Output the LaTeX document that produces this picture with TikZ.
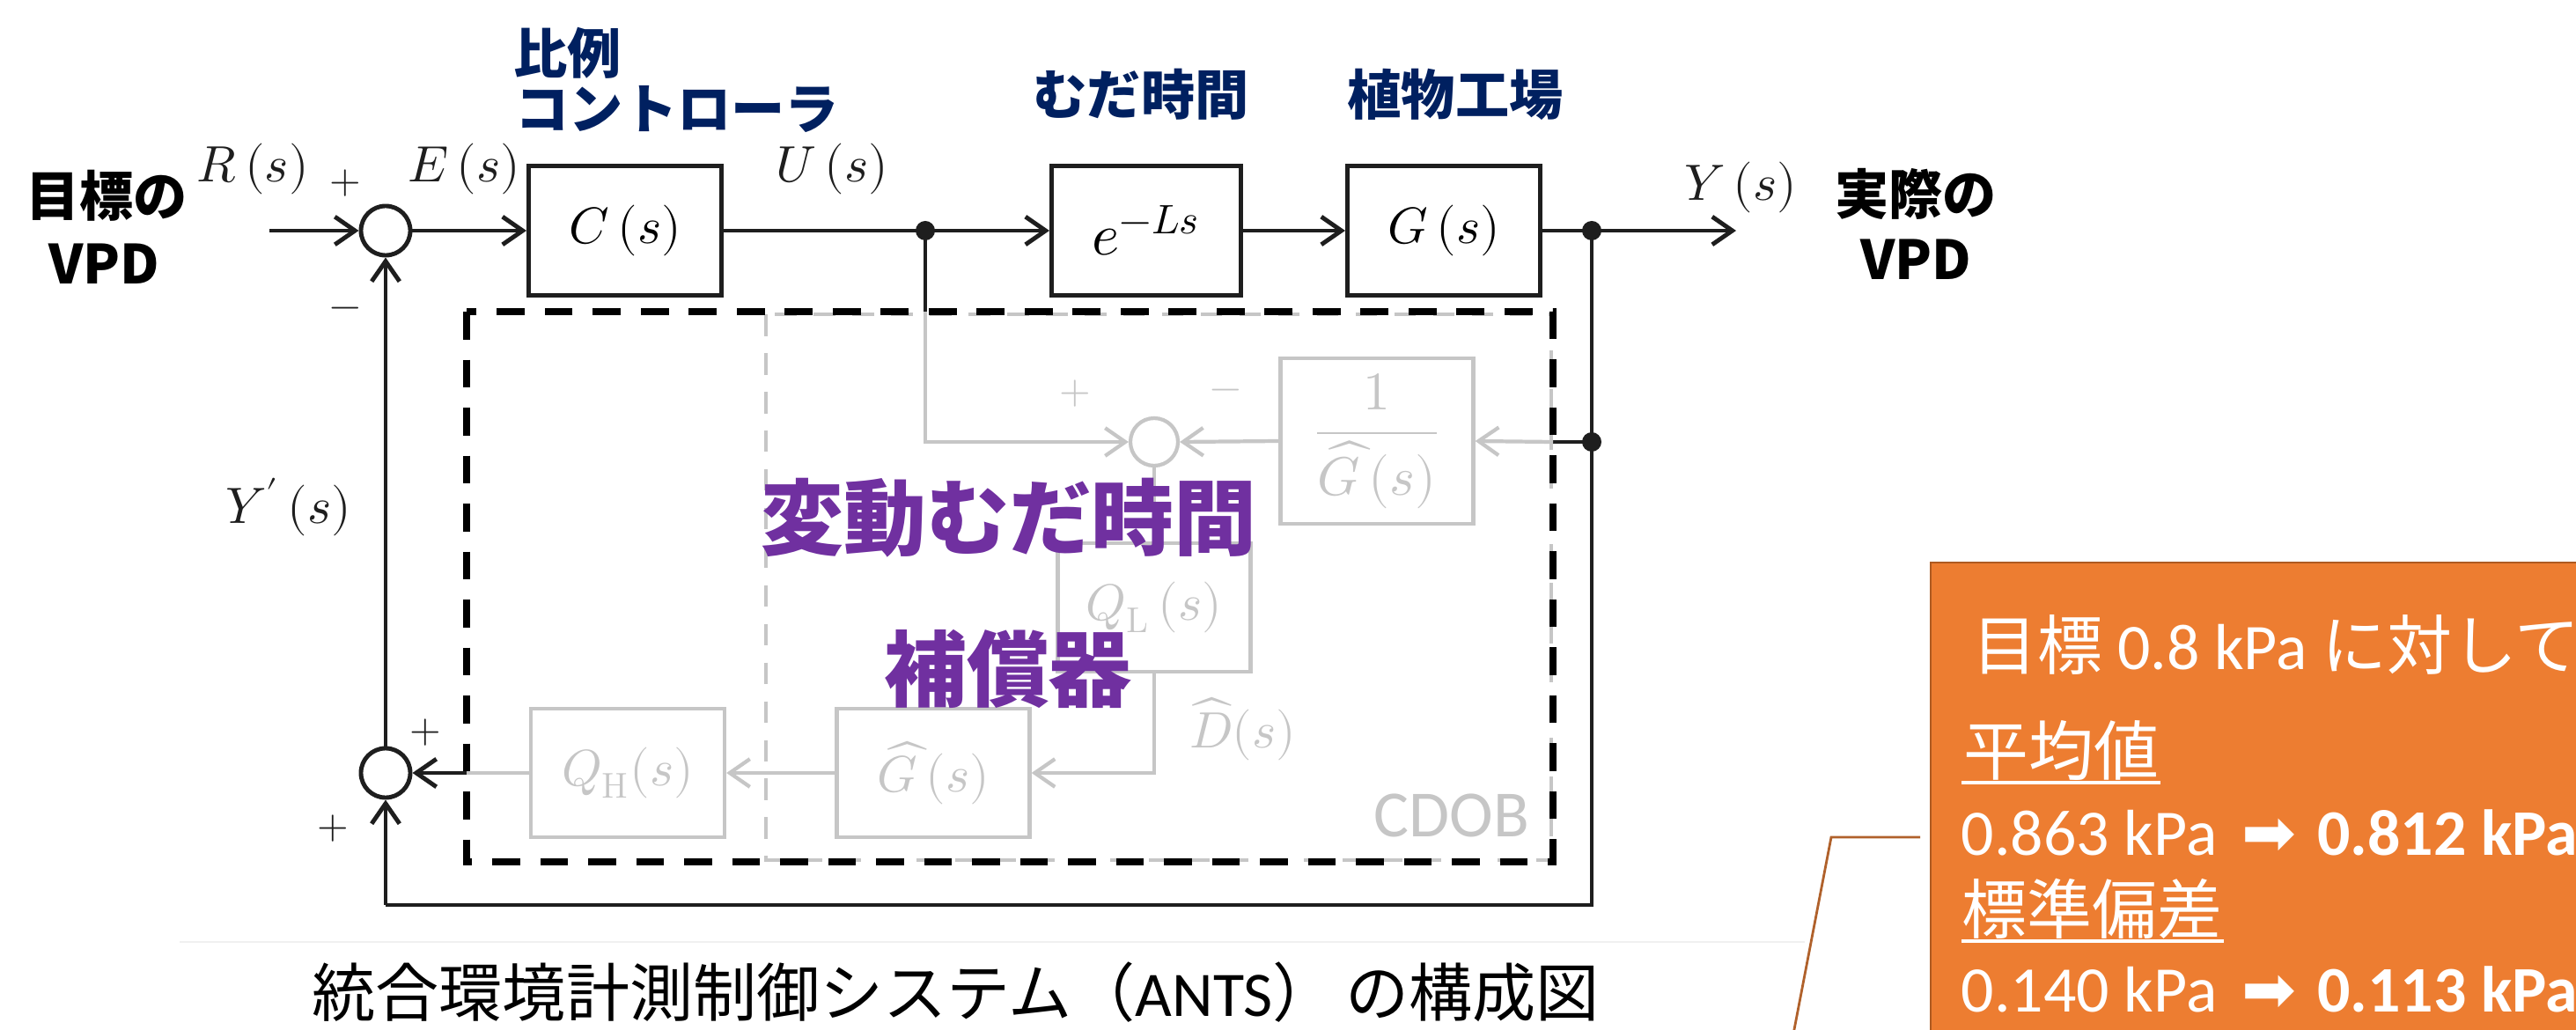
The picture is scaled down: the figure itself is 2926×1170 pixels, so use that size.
\documentclass[tikz,border=0pt]{standalone}
\usepackage{fontspec}
\usepackage{unicode-math}
\setmathfont{latinmodern-math.otf}
\usetikzlibrary{arrows.meta}
\newfontfamily\cjk{Noto Sans CJK JP}
\newfontfamily\carl{Carlito}
\newfontfamily\djv{DejaVu Sans}
\definecolor{navy}{HTML}{002060}
\definecolor{purp}{HTML}{7030A0}
\definecolor{lg}{HTML}{C6C6C6}
\definecolor{dk}{HTML}{1E1E1E}
\definecolor{org}{HTML}{ED7D31}
\definecolor{orgd}{HTML}{AE5A21}
\definecolor{callc}{HTML}{B0612B}
\newcommand{\myfs}[1]{\fontsize{#1pt}{#1pt}\selectfont}
\tikzset{
  blk/.style={draw=dk, line width=1.4pt, minimum width=2.19cm, minimum height=1.46cm, inner sep=0pt, font=\myfs{16.5}},
  gblk/.style={blk, draw=lg, line width=1.2pt, text=lg},
  sumj/.style={circle, draw=dk, line width=1.4pt, minimum size=0.56cm, inner sep=0pt},
  gsum/.style={sumj, draw=lg, line width=1.2pt, minimum size=0.54cm},
  dotn/.style={circle, fill=dk, minimum size=0.22cm, inner sep=0pt},
  wire/.style={draw=dk, line width=1.4pt},
  gwire/.style={draw=lg, line width=1.2pt},
  arr/.style={-{Straight Barb[length=6.5pt,width=9pt]}},
  mlbl/.style={inner sep=0pt, text=dk, font=\myfs{16.5}},
  sgn/.style={inner sep=0pt, text=dk, font=\myfs{13}},
  toplbl/.style={inner sep=0pt, text=navy, font=\cjk\bfseries\myfs{17.4}},
  vpd/.style={inner sep=0pt, text=black, font=\cjk\bfseries\myfs{17.4}},
  purlbl/.style={inner sep=0pt, text=purp, font=\cjk\bfseries\myfs{26.7}},
  boxtxt/.style={inner sep=0pt, text=white, font=\myfs{21}, anchor=base west},
}
\begin{document}
\begin{tikzpicture}[x=0.01cm, y=-0.01cm]
\useasboundingbox (0,0) rectangle (2926,1170);
\fill[white] (0,0) rectangle (2926,1170);

% faint separator above caption
\draw[black!6, line width=0.5pt] (204,1070) -- (2050,1070);

% ---------- CDOB frames ----------
\draw[lg, line width=1.1pt, dash pattern=on 7pt off 5.5pt] (870,357) rectangle (1762,977);
\draw[black, line width=2pt, dash pattern=on 9pt off 6.5pt] (530,354) rectangle (1764,979);

% ---------- main path ----------
\coordinate (in) at (306,262);
\node[sumj] (s1) at (438,262) {};
\node[blk] (C) at (710,262) {$C\,(s)$};
\node[dotn] (d1) at (1051,262) {};
\node[blk, minimum width=2.15cm, font=\myfs{19}] (E) at (1302,262) {$e^{-Ls}$};
\node[blk] (G) at (1640,262) {$G\,(s)$};
\node[dotn] (d2) at (1808,262) {};
\coordinate (out) at (1972,262);
\draw[wire,arr] (in) -- (s1.west);
\draw[wire,arr] (s1.east) -- (C.west);
\draw[wire] (C.east) -- (d1.center);
\draw[wire,arr] (d1.center) -- (E.west);
\draw[wire,arr] (E.east) -- (G.west);
\draw[wire] (G.east) -- (d2.center);
\draw[wire,arr] (d2.center) -- (out);

% ---------- feedback ----------
\node[sumj] (s2) at (438,878) {};
\node[dotn] (d3) at (1808,502) {};
\coordinate (br) at (1808,1028);
\coordinate (bl) at (438,1028);
\draw[wire] (d2.center) -- (br) -- (bl);
\draw[wire,arr] (bl) -- (s2.south);
\draw[wire,arr] (s2.north) -- (s1.south);

% ---------- CDOB internals ----------
\node[gblk, minimum height=1.88cm, font=\myfs{17.5}] (iG) at (1564,501) {$\dfrac{1}{\widehat{G}\,(s)}$};
\node[gsum] (s3) at (1311,502) {};
\coordinate (rb) at (1764,502);
\draw[wire] (d3.center) -- (rb);
\draw[gwire,arr] (rb) -- (iG.east);
\draw[gwire,arr] (iG.west) -- (s3.east);
\coordinate (ut) at (1051,354);
\draw[wire] (d1.center) -- (ut);
\draw[gwire,arr] (ut) |- (s3.west);
\node[gblk] (QL) at (1311,690) {$Q_{\mathrm{L}}\,(s)$};
\draw[gwire] (s3.south) -- (QL.north);
\node[gblk] (Gh) at (1060,878) {$\widehat{G}\,(s)$};
\draw[gwire,arr] (QL.south) |- (Gh.east);
\node[gblk, minimum width=2.2cm] (QH) at (713,878) {$Q_{\mathrm{H}}(s)$};
\draw[gwire,arr] (Gh.west) -- (QH.east);
\coordinate (lb) at (530,878);
\draw[gwire] (QH.west) -- (lb);
\draw[wire,arr] (lb) -- (s2.east);

% ---------- signal labels ----------
\node[mlbl] (lR) at (287,192) {$R\,(s)$};
\node[sgn] (p1) at (392,208) {$+$};
\node[mlbl] (lE) at (527,192) {$E\,(s)$};
\node[mlbl] (lU) at (945,192) {$U\,(s)$};
\node[sgn] (m1) at (392,355) {$-$};
\node[mlbl] (lYp) at (328,576) {$Y'\,(s)$};
\node[sgn] (p2) at (483,832) {$+$};
\node[sgn] (p3) at (378,941) {$+$};
\node[mlbl] (lY) at (1977,213) {$Y\,(s)$};
\node[sgn, text=lg] (p4) at (1221,447) {$+$};
\node[sgn, text=lg] (m2) at (1392,448) {$-$};
\node[mlbl, text=lg] (lD) at (1412,828) {$\widehat{D}(s)$};
\node[inner sep=0pt, text=lg, font=\carl\myfs{21.3}] (cdob) at (1649,926) {CDOB};

% ---------- Japanese labels ----------
\node[toplbl, anchor=west] (t1) at (583,60) {比例};
\node[toplbl, anchor=west] (t2) at (585,124) {コントローラ};
\node[toplbl] (t3) at (1296,107) {むだ時間};
\node[toplbl] (t4) at (1653,107) {植物工場};
\node[vpd] (v1) at (121,222) {目標の};
\node[vpd] (v2) at (118,300) {VPD};
\node[vpd] (v3) at (2176,220) {実際の};
\node[vpd] (v4) at (2176,295) {VPD};
\node[purlbl] (pu1) at (1146,588) {変動むだ時間};
\node[purlbl] (pu2) at (1145,760) {補償器};

% ---------- caption ----------
\node[inner sep=0pt, anchor=west, text=black, font=\myfs{20.5}] (cap) at (354,1127)
  {{\cjk 統合環境計測制御システム（}{\carl ANTS}{\cjk ）\kern0.15em の構成図}};

% ---------- orange result box ----------
\fill[org] (2193,639) rectangle (2940,1185);
\draw[orgd, line width=0.6pt] (2193,1185) -- (2193,639) -- (2940,639);
\draw[callc, line width=0.8pt] (2181,951) -- (2080,951) -- (2035,1185);
\node[boxtxt, font=\carl\myfs{21}] (b1) at (2240,760) {{\cjk 目標} 0.8 kPa {\cjk に対して}};
\node[boxtxt] (b2) at (2230,880) {{\cjk 平均値}};
\draw[white, line width=0.9pt] (2228,889) -- (2454,889);
\node[boxtxt, font=\carl\myfs{21}] (b3) at (2227,971) {0.863 kPa\hspace{0.15em} {\djv ➡}\hspace{0.1em} {\bfseries 0.812 kPa}};
\node[boxtxt] (b4) at (2228,1060) {{\cjk 標準偏差}};
\draw[white, line width=0.9pt] (2228,1069) -- (2526,1069);
\node[boxtxt, font=\carl\myfs{21}] (b5) at (2227,1149) {0.140 kPa\hspace{0.15em} {\djv ➡}\hspace{0.1em} {\bfseries 0.113 kPa}};
\end{tikzpicture}
\end{document}
